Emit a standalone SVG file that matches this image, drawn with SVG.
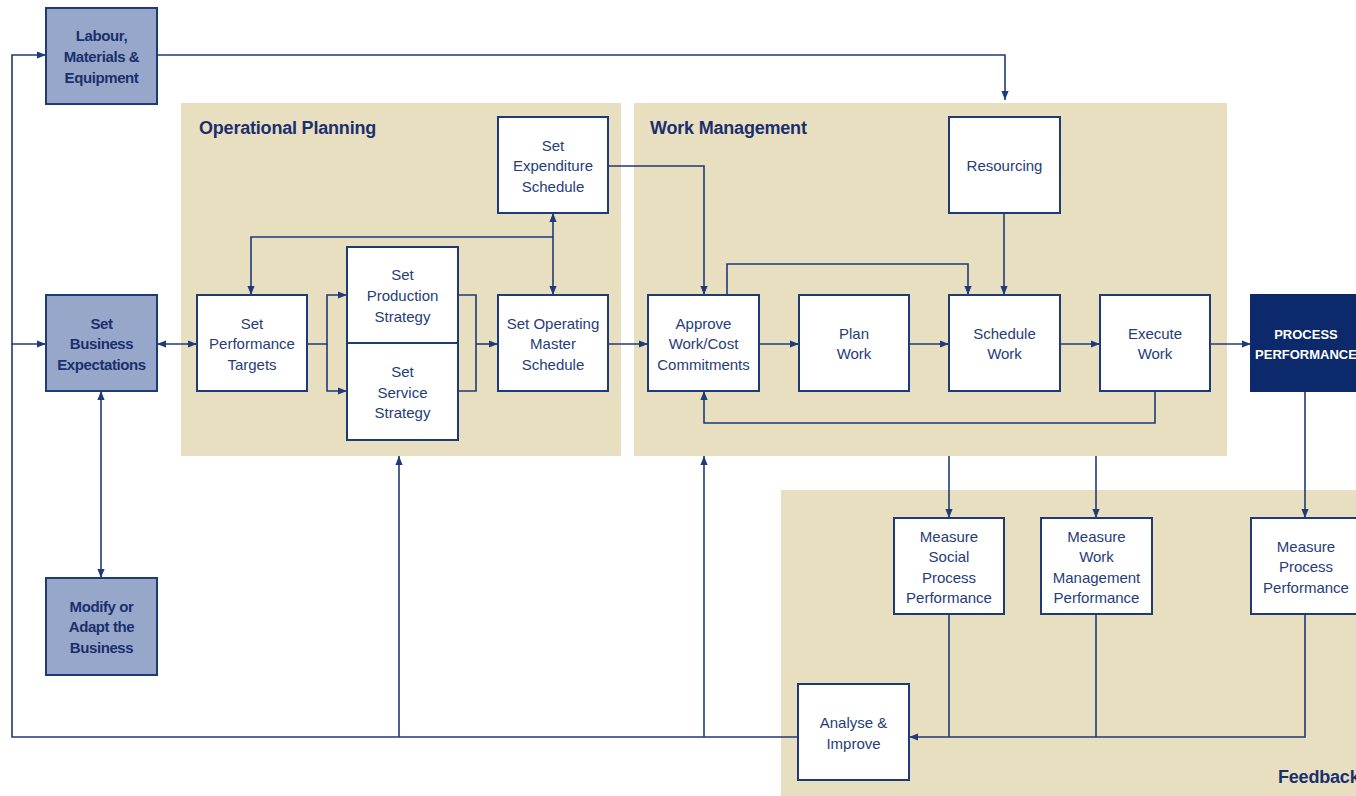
<svg xmlns="http://www.w3.org/2000/svg" width="1356" height="796" viewBox="0 0 1356 796">
<style>
.panel{fill:#e8dfc0}
.box{fill:#ffffff;stroke:#1f3a78;stroke-width:2}
.bbox{fill:#96a7c9;stroke:#1f3a78;stroke-width:2}
.dbox{fill:#0c2a6b;stroke:#0c2a6b;stroke-width:2}
.t{font-family:"Liberation Sans",Arial,sans-serif;font-size:15px;fill:#263d78;text-anchor:middle}
.tb{font-family:"Liberation Sans",Arial,sans-serif;font-size:15px;font-weight:bold;fill:#1b2f6e;text-anchor:middle;letter-spacing:-0.4px}
.tw{font-family:"Liberation Sans",Arial,sans-serif;font-size:13px;font-weight:bold;fill:#ffffff;text-anchor:middle}
.title{font-family:"Liberation Sans",Arial,sans-serif;font-size:18px;font-weight:bold;fill:#1b2f6e;letter-spacing:-0.2px}
.c{fill:none;stroke:#1f3a78;stroke-width:1.6}
.ar{marker-end:url(#a)}
.dar{marker-start:url(#a);marker-end:url(#a)}
</style>
<defs>
<marker id="a" viewBox="0 0 10 10" refX="10" refY="5" markerWidth="9" markerHeight="9" markerUnits="userSpaceOnUse" orient="auto-start-reverse">
<path d="M0,1 L10,5 L0,9 z" fill="#1f3a78"/>
</marker>
</defs>
<rect width="1356" height="796" fill="#ffffff"/>

<g id="panels">
<rect class="panel" x="181" y="103" width="440" height="353"/>
<rect class="panel" x="634" y="103" width="593" height="353"/>
<rect class="panel" x="781" y="490" width="580" height="310"/>
<text class="title" x="199" y="134">Operational Planning</text>
<text class="title" x="650" y="134">Work Management</text>
<text class="title" x="1278" y="783">Feedback</text>
</g>

<g id="connectors">
<path class="c" d="M798,737 H12 V55 H46" marker-end="url(#a)"/>
<path class="c ar" d="M12,344 H46"/>
<path class="c ar" d="M399,737 V456"/>
<path class="c ar" d="M704,737 V456"/>
<path class="c ar" d="M157,55 H1005 V100"/>
<path class="c dar" d="M157,344 H197"/>
<path class="c dar" d="M101,391 V578"/>
<path class="c ar" d="M307,344 H327 V295 H347"/>
<path class="c ar" d="M327,344 V391 H347"/>
<path class="c" d="M458,295 H476 V391 H458"/>
<path class="c ar" d="M476,344 H498"/>
<path class="c ar" d="M553,237 H251 V295"/>
<path class="c dar" d="M553,213 V295"/>
<path class="c ar" d="M608,166 H704 V295"/>
<path class="c ar" d="M608,344 H648"/>
<path class="c ar" d="M727,295 V264 H968 V295"/>
<path class="c ar" d="M759,344 H799"/>
<path class="c ar" d="M909,344 H949"/>
<path class="c ar" d="M1060,344 H1100"/>
<path class="c ar" d="M1210,344 H1251"/>
<path class="c ar" d="M1155,391 V423 H704 V391"/>
<path class="c ar" d="M1004,213 V295"/>
<path class="c ar" d="M949,456 V518"/>
<path class="c ar" d="M1096,456 V518"/>
<path class="c ar" d="M1305,391 V518"/>
<path class="c" d="M949,614 V737"/>
<path class="c" d="M1096,614 V737"/>
<path class="c ar" d="M1305,614 V737 H909"/>
</g>

<g id="labour">
<rect class="bbox" x="46" y="8" width="111" height="96"/>
<text class="tb" x="101.5" y="41">Labour,</text>
<text class="tb" x="101.5" y="62">Materials &amp;</text>
<text class="tb" x="101.5" y="83">Equipment</text>
</g>
<g id="set-business">
<rect class="bbox" x="46" y="295" width="111" height="96"/>
<text class="tb" x="101.5" y="329">Set</text>
<text class="tb" x="101.5" y="349">Business</text>
<text class="tb" x="101.5" y="370">Expectations</text>
</g>
<g id="modify">
<rect class="bbox" x="46" y="578" width="111" height="97"/>
<text class="tb" x="101.5" y="612">Modify or</text>
<text class="tb" x="101.5" y="632">Adapt the</text>
<text class="tb" x="101.5" y="653">Business</text>
</g>
<g id="perf-targets">
<rect class="box" x="197" y="295" width="110" height="96"/>
<text class="t" x="252" y="329">Set</text>
<text class="t" x="252" y="349">Performance</text>
<text class="t" x="252" y="370">Targets</text>
</g>
<g id="production">
<rect class="box" x="347" y="247" width="111" height="96"/>
<text class="t" x="402.5" y="280">Set</text>
<text class="t" x="402.5" y="301">Production</text>
<text class="t" x="402.5" y="322">Strategy</text>
</g>
<g id="service">
<rect class="box" x="347" y="343" width="111" height="97"/>
<text class="t" x="402.5" y="377">Set</text>
<text class="t" x="402.5" y="398">Service</text>
<text class="t" x="402.5" y="418">Strategy</text>
</g>
<g id="master">
<rect class="box" x="498" y="295" width="110" height="96"/>
<text class="t" x="553" y="329">Set Operating</text>
<text class="t" x="553" y="349">Master</text>
<text class="t" x="553" y="370">Schedule</text>
</g>
<g id="expenditure">
<rect class="box" x="498" y="117" width="110" height="96"/>
<text class="t" x="553" y="151">Set</text>
<text class="t" x="553" y="171">Expenditure</text>
<text class="t" x="553" y="192">Schedule</text>
</g>
<g id="approve">
<rect class="box" x="648" y="295" width="111" height="96"/>
<text class="t" x="703.5" y="329">Approve</text>
<text class="t" x="703.5" y="349">Work/Cost</text>
<text class="t" x="703.5" y="370">Commitments</text>
</g>
<g id="plan">
<rect class="box" x="799" y="295" width="110" height="96"/>
<text class="t" x="854" y="339">Plan</text>
<text class="t" x="854" y="359">Work</text>
</g>
<g id="schedule">
<rect class="box" x="949" y="295" width="111" height="96"/>
<text class="t" x="1004.5" y="339">Schedule</text>
<text class="t" x="1004.5" y="359">Work</text>
</g>
<g id="execute">
<rect class="box" x="1100" y="295" width="110" height="96"/>
<text class="t" x="1155" y="339">Execute</text>
<text class="t" x="1155" y="359">Work</text>
</g>
<g id="resourcing">
<rect class="box" x="949" y="117" width="111" height="96"/>
<text class="t" x="1004.5" y="171">Resourcing</text>
</g>
<g id="process-performance">
<rect class="dbox" x="1251" y="295" width="110" height="96"/>
<text class="tw" x="1306" y="339">PROCESS</text>
<text class="tw" x="1306" y="359">PERFORMANCE</text>
</g>
<g id="measure-social">
<rect class="box" x="894" y="518" width="110" height="96"/>
<text class="t" x="949" y="542">Measure</text>
<text class="t" x="949" y="562">Social</text>
<text class="t" x="949" y="583">Process</text>
<text class="t" x="949" y="603">Performance</text>
</g>
<g id="measure-wm">
<rect class="box" x="1041" y="518" width="111" height="96"/>
<text class="t" x="1096.5" y="542">Measure</text>
<text class="t" x="1096.5" y="562">Work</text>
<text class="t" x="1096.5" y="583">Management</text>
<text class="t" x="1096.5" y="603">Performance</text>
</g>
<g id="measure-process">
<rect class="box" x="1251" y="518" width="110" height="96"/>
<text class="t" x="1306" y="552">Measure</text>
<text class="t" x="1306" y="572">Process</text>
<text class="t" x="1306" y="593">Performance</text>
</g>
<g id="analyse">
<rect class="box" x="798" y="684" width="111" height="96"/>
<text class="t" x="853.5" y="728">Analyse &amp;</text>
<text class="t" x="853.5" y="749">Improve</text>
</g>
</svg>
